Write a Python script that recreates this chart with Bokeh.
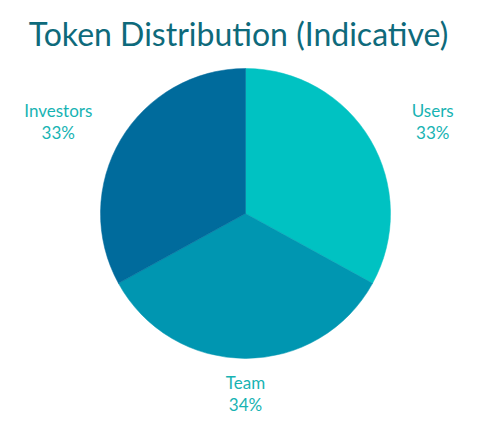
import math
from bokeh.plotting import figure
from bokeh.models import Range1d
from bokeh.core.properties import value
from bokeh.embed import file_html
from bokeh.resources import INLINE

title_text = "Token Distribution (Indicative)"
categories = ["Users", "Team", "Investors"]
shares = [33, 34, 33]
colors = ["#00C2C2", "#0096B1", "#006B9C"]

W, H = 500, 423
cx, cy, R = 245, 213, 145

p = figure(width=W, height=H, output_backend="svg", toolbar_location=None,
           x_range=Range1d(0, W), y_range=Range1d(H, 0), min_border=0,
           outline_line_color=None, background_fill_color="white",
           border_fill_color="white")
p.axis.visible = False
p.grid.visible = False

total = sum(shares)
start = math.pi / 2
starts, ends, mids = [], [], []
for s in shares:
    span = 2 * math.pi * s / total
    starts.append(start)
    ends.append(start - span)
    mids.append(start - span / 2)
    start -= span

p.wedge(x=cx, y=cy, radius=R, start_angle=starts, end_angle=ends,
        direction="clock", fill_color=colors, line_color=colors, line_width=0.5)

fx, fy = 1.5, 1.24
lx = [cx + fx * R * math.cos(m) for m in mids]
ly = [cy - fy * R * math.sin(m) for m in mids]
p.text(x=lx, y=[y - 11 for y in ly], text=categories, text_align="center",
       text_baseline="middle", text_font=value("Lato"), text_font_size="17px",
       text_color="#17B3B3")
p.text(x=lx, y=[y + 11 for y in ly], text=[f"{s}%" for s in shares],
       text_align="center", text_baseline="middle", text_font=value("Lato"),
       text_font_size="17px", text_color="#17B3B3")

p.text(x=[238], y=[33], text=[title_text], text_align="center",
       text_baseline="middle", text_font=value("Lato"), text_font_size="32px",
       text_color="#0E6A7B")

open("out.html", "w").write(file_html(p, INLINE))
